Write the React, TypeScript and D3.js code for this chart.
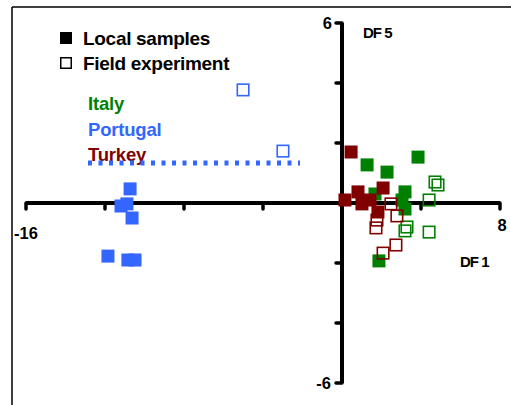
import React from "react";
import * as d3 from "d3";

// Discriminant scores (DF 1, DF 5) per origin
const italyLocal: [number, number][] = [
  [1.27, 1.27], [2.28, 1.03], [3.85, 1.53], [3.19, 0.37], [3.04, 0.1],
  [3.19, -0.2], [1.67, 0.3], [1.87, -1.93],
];
const italyField: [number, number][] = [
  [4.71, 0.7], [4.86, 0.6], [4.41, 0.1], [3.29, -0.8], [3.19, -0.93], [4.41, -0.97],
];
const portugalLocal: [number, number][] = [
  [-10.73, 0.47], [-11.19, -0.1], [-10.89, -0.03], [-10.63, -0.5],
  [-11.85, -1.77], [-10.84, -1.9], [-10.48, -1.9],
];
const portugalField: [number, number][] = [[-5.01, 3.77], [-2.99, 1.73]];
const turkeyLocal: [number, number][] = [
  [0.46, 1.7], [0.15, 0.1], [0.81, 0.37], [1.01, -0.03], [1.42, 0.1],
  [1.82, -0.3], [2.08, 0.5],
];
const turkeyField: [number, number][] = [
  [2.48, -0.03], [2.78, -0.43], [1.77, -0.57], [1.72, -0.83], [2.73, -1.4], [2.08, -1.67],
];

const xTicks = [-16, -12, -8, -4, 4, 8];
const yTicks = [-6, -4, -2, 2, 4, 6];
const countryLabels = ["Italy", "Portugal", "Turkey"];

const GREEN = "#008000";
const BLUE = "#3366FF";
const RED = "#800000";

const W = 511;
const H = 405;
const FONT = "'Liberation Sans', Arial, sans-serif";

export default function App() {
  const x = d3.scaleLinear().domain([-16, 8]).range([26, 500]);
  const y = d3.scaleLinear().domain([-6, 6]).range([383, 23]);
  const S = 13; // filled marker size
  const O = 11.5; // open marker size

  const filled = (pts: [number, number][], color: string, key: string) =>
    pts.map((p, i) => (
      <rect key={key + i} x={x(p[0]) - S / 2} y={y(p[1]) - S / 2} width={S} height={S} fill={color} />
    ));
  const open = (pts: [number, number][], color: string, key: string) =>
    pts.map((p, i) => (
      <rect key={key + i} x={x(p[0]) - O / 2} y={y(p[1]) - O / 2} width={O} height={O}
        fill="none" stroke={color} strokeWidth={1.6} />
    ));

  const legendColors = [GREEN, BLUE, RED];

  return (
    <svg width={W} height={H} style={{ position: "fixed", left: 0, top: 0, background: "#fff" }}
      fontFamily={FONT}>
      {/* frame */}
      <line x1={12} y1={7} x2={W} y2={7} stroke="#000" strokeWidth={1.5} />
      <line x1={12} y1={7} x2={12} y2={H} stroke="#000" strokeWidth={1.5} />

      {/* axes through the origin */}
      <line x1={x(-16)} y1={y(0)} x2={x(8)} y2={y(0)} stroke="#000" strokeWidth={4} />
      {xTicks.map((t) => (
        <line key={"xt" + t} x1={x(t)} y1={y(0)} x2={x(t)} y2={y(0) + 6} stroke="#000"
          strokeWidth={3.5} strokeLinecap="round" />
      ))}
      <line x1={x(0)} y1={y(6)} x2={x(0)} y2={y(-6)} stroke="#000" strokeWidth={4} />
      {yTicks.map((t) => (
        <line key={"yt" + t} x1={x(0)} y1={y(t)} x2={x(0) - 6} y2={y(t)} stroke="#000"
          strokeWidth={3.5} strokeLinecap="round" />
      ))}

      {/* axis labels */}
      <g fontWeight="bold" fontSize={16.5} fill="#000">
        <text x={x(-16)} y={y(0) + 36} textAnchor="middle">-16</text>
        <text x={x(8) + 2} y={y(0) + 28} textAnchor="middle">8</text>
        <text x={x(0) - 10} y={y(6) + 6} textAnchor="end">6</text>
        <text x={x(0) - 11} y={y(-6) + 6} textAnchor="end">-6</text>
      </g>
      <g fontWeight="bold" fontSize={15} fill="#000" letterSpacing={-1}>
        <text x={363} y={38}>DF 5</text>
        <text x={460} y={267}>DF 1</text>
      </g>

      {/* legend */}
      <rect x={60} y={32} width={12} height={12} fill="#000" />
      <rect x={60.75} y={57.75} width={10.5} height={10.5} fill="none" stroke="#000" strokeWidth={1.5} />
      <g fontWeight="bold" fontSize={19} fill="#000" letterSpacing={-0.3}>
        <text x={83} y={45}>Local samples</text>
        <text x={83} y={70}>Field experiment</text>
      </g>
      <g fontWeight="bold" fontSize={18.5} letterSpacing={-0.2}>
        {countryLabels.map((c, i) => (
          <text key={c} x={88} y={110 + i * 25.5} fill={legendColors[i]}>{c}</text>
        ))}
      </g>
      <line x1={88} y1={163} x2={300} y2={163} stroke={BLUE} strokeWidth={5} strokeDasharray="4 6.5" />

      {/* samples */}
      {filled(portugalLocal, BLUE, "pl")}
      {open(portugalField, BLUE, "pf")}
      {filled(italyLocal, GREEN, "il")}
      {filled(turkeyLocal, RED, "tl")}
      {open(italyField, GREEN, "if")}
      {open(turkeyField, RED, "tf")}
    </svg>
  );
}
